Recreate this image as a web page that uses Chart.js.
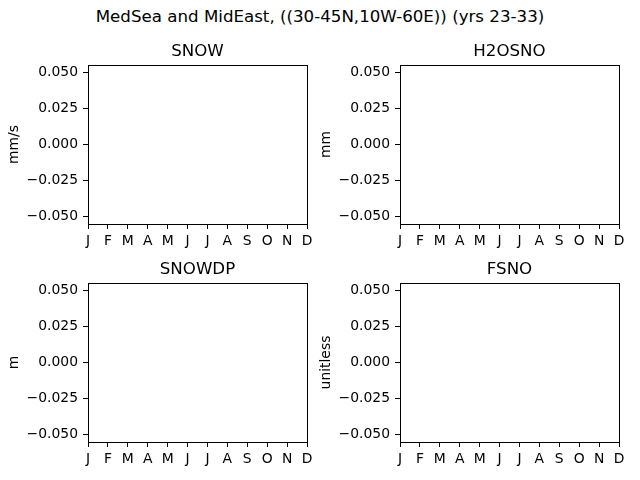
<!DOCTYPE html>
<html>
<head>
<meta charset="utf-8">
<script src="https://cdn.jsdelivr.net/npm/chart.js@4/dist/chart.umd.min.js"></script>
<style>
    body { margin: 0; background: #fff; }
    #page { position: relative; width: 640px; height: 480px; overflow: hidden; }
    #suptitle {
        position: absolute; left: 0; top: 7px; width: 640px; text-align: center;
        font: 16.67px "DejaVu Sans", sans-serif; line-height: 20px; color: #000;
    }
    canvas { position: absolute; }
</style>
</head>
<body>
<div id="page">
    <div id="suptitle">MedSea and MidEast, ((30-45N,10W-60E)) (yrs 23-33)</div>
    <canvas id="c-snow" width="317" height="221" style="left:0px;top:33px"></canvas>
    <canvas id="c-h2osno" width="317" height="221" style="left:312px;top:33px"></canvas>
    <canvas id="c-snowdp" width="317" height="221" style="left:0px;top:251px"></canvas>
    <canvas id="c-fsno" width="317" height="221" style="left:312px;top:251px"></canvas>
</div>
<script>
// months on the x axis
const months = ['J', 'F', 'M', 'A', 'M', 'J', 'J', 'A', 'S', 'O', 'N', 'D'];
// y tick values shared by all panels
const yTicks = [-0.05, -0.025, 0, 0.025, 0.05];
// panel titles and units
const titles = ['SNOW', 'H2OSNO', 'SNOWDP', 'FSNO'];
const units = ['mm/s', 'mm', 'm', 'unitless'];
// monthly climatology per panel: nothing plotted in the reference
const snowValues = [null, null, null, null, null, null, null, null, null, null, null, null];
const h2osnoValues = [null, null, null, null, null, null, null, null, null, null, null, null];
const snowdpValues = [null, null, null, null, null, null, null, null, null, null, null, null];
const fsnoValues = [null, null, null, null, null, null, null, null, null, null, null, null];

Chart.defaults.font.family = '"DejaVu Sans", sans-serif';
Chart.defaults.color = '#000';

// matplotlib style box round the plot area
const frame = {
    id: 'frame',
    afterDraw(chart) {
        const a = chart.chartArea;
        const ctx = chart.ctx;
        ctx.save();
        ctx.strokeStyle = '#000';
        ctx.lineWidth = 1;
        ctx.strokeRect(Math.round(a.left) + 0.5, Math.round(a.top) + 0.5,
            Math.round(a.right - a.left), Math.round(a.bottom - a.top));
        ctx.restore();
    }
};

function fmt(v) {
    return v.toFixed(3).replace('-', '\u2212');
}

function makePanel(id, title, unit, values) {
    const ctx = document.getElementById(id).getContext('2d');
    return new Chart(ctx, {
        type: 'line',
        data: {
            labels: months,
            datasets: [{
                data: values,
                borderColor: '#1f77b4',
                borderWidth: 1.5,
                pointRadius: 0
            }]
        },
        options: {
            responsive: false,
            animation: false,
            events: [],
            layout: { padding: { left: 0, right: 10, top: 0, bottom: 0 } },
            plugins: {
                legend: { display: false },
                tooltip: { enabled: false },
                title: {
                    display: true,
                    fullSize: false,
                    text: title,
                    color: '#000',
                    font: { size: 16.67, weight: 'normal' },
                    padding: { top: 9, bottom: 3 }
                }
            },
            scales: {
                x: {
                    type: 'category',
                    offset: false,
                    afterFit: s => { s.height = 30; },
                    border: { display: false },
                    grid: { drawOnChartArea: false, drawTicks: true, tickLength: 5, color: '#000', lineWidth: 1 },
                    ticks: { autoSkip: false, maxRotation: 0, minRotation: 0, padding: 4, color: '#000', font: { size: 13.9 } }
                },
                y: {
                    type: 'linear',
                    min: -0.055,
                    max: 0.055,
                    afterFit: s => { s.width = 88; },
                    afterBuildTicks: s => { s.ticks = yTicks.map(v => ({ value: v })); },
                    border: { display: false },
                    grid: { drawOnChartArea: false, drawTicks: true, tickLength: 5, color: '#000', lineWidth: 1 },
                    ticks: { padding: 5, color: '#000', font: { size: 13.9 }, callback: v => fmt(v) },
                    title: {
                        display: true,
                        text: unit,
                        color: '#000',
                        font: { size: 13.9 },
                        padding: { top: 6, bottom: 0 }
                    }
                }
            }
        },
        plugins: [frame]
    });
}

makePanel('c-snow', titles[0], units[0], snowValues);
makePanel('c-h2osno', titles[1], units[1], h2osnoValues);
makePanel('c-snowdp', titles[2], units[2], snowdpValues);
makePanel('c-fsno', titles[3], units[3], fsnoValues);
</script>
</body>
</html>
